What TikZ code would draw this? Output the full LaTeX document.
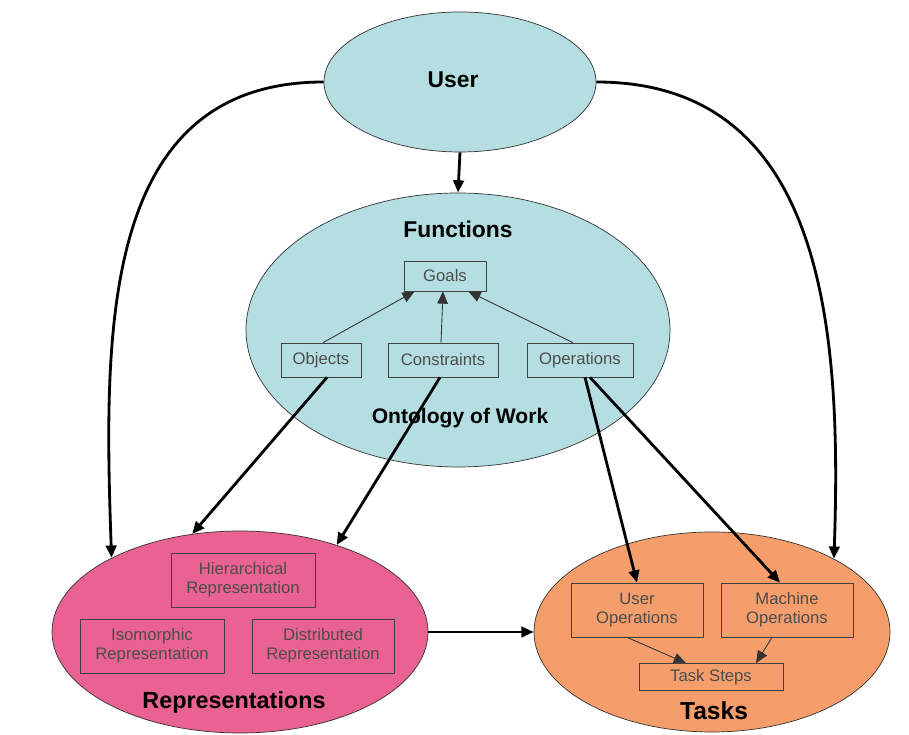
\documentclass[tikz,border=0pt]{standalone}
\usepackage{fontspec}
\setmainfont{Liberation Sans}
\usetikzlibrary{shapes.geometric,arrows.meta}
\definecolor{teal1}{RGB}{180,222,226}
\definecolor{pink1}{RGB}{234,98,145}
\definecolor{orange1}{RGB}{245,158,108}
\tikzset{
  area/.style={ellipse, draw=black!80, thin, inner sep=0pt},
  title/.style={font=\bfseries\fontsize{#1}{14}\selectfont},
  title/.default=12,
  box/.style={draw=black!75, thin, align=center, inner sep=0pt,
    text=black!70, font=\fontsize{9.5}{11}\selectfont},
  thick arrow/.style={->, line width=1.6pt},
  thin arrow/.style={->, line width=0.5pt, draw=black!80}
}
\begin{document}
\begin{tikzpicture}[>={Triangle[length=7pt,width=6pt]}]
  \useasboundingbox (0,0) rectangle (18.18,14.7);

  \node[area, fill=teal1, minimum width=5.44cm, minimum height=2.8cm] (user) at (9.2, 13.06) {};
  \node[title=13] (usertxt) at (9.06, 13.1) {User};

  \node[area, fill=teal1, minimum width=8.48cm, minimum height=5.48cm] (func) at (9.16, 8.1) {};
  \node[title=13] (functxt) at (9.16, 10.12) {Functions};
  \node[title] (ontotxt) at (9.2, 6.34) {Ontology of Work};

  \node[area, fill=pink1, minimum width=7.52cm, minimum height=4.04cm] (reps) at (4.8, 2.06) {};
  \node[title=13.3] (repstxt) at (4.68, 0.66) {Representations};

  \node[area, fill=orange1, minimum width=7.12cm, minimum height=4.0cm] (tasks) at (14.24, 2.06) {};
  \node[title=14] (taskstxt) at (14.28, 0.48) {Tasks};

  % boxes inside functions
  \node[box, minimum width=1.64cm, minimum height=0.6cm] (goals) at (8.9, 9.18) {Goals};
  \node[box, minimum width=1.6cm, minimum height=0.68cm] (objects) at (6.42, 7.5) {Objects};
  \node[box, minimum width=2.2cm, minimum height=0.68cm] (constraints) at (8.86, 7.5) {Constraints};
  \node[box, minimum width=2.12cm, minimum height=0.68cm] (operations) at (11.6, 7.5) {Operations};

  % boxes inside representations
  \node[box, minimum width=2.88cm, minimum height=1.08cm] (hier) at (4.86, 3.1) {Hierarchical\\Representation};
  \node[box, minimum width=2.88cm, minimum height=1.08cm] (iso) at (3.04, 1.78) {Isomorphic\\Representation};
  \node[box, minimum width=2.84cm, minimum height=1.08cm] (dist) at (6.46, 1.78) {Distributed\\Representation};

  % boxes inside tasks
  \node[box, minimum width=2.64cm, minimum height=1.08cm] (userops) at (12.74, 2.5) {User\\Operations};
  \node[box, minimum width=2.64cm, minimum height=1.08cm] (machops) at (15.74, 2.5) {Machine\\Operations};
  \node[box, minimum width=2.88cm, minimum height=0.54cm] (steps) at (14.22, 1.16) {Task Steps};

  % thin arrows
  \draw[thin arrow] ([xshift=0.04cm]objects.north) to ([xshift=0.22cm]goals.south west);
  \draw[thin arrow] ([xshift=-0.04cm]constraints.north) to ([xshift=-0.04cm]goals.south);
  \draw[thin arrow] ([xshift=-0.14cm]operations.north) to ([xshift=-0.36cm]goals.south east);
  \draw[thin arrow] ([xshift=-0.2cm]userops.south) to ([xshift=-0.5cm]steps.north);
  \draw[thin arrow] ([xshift=-0.3cm]machops.south) to ([xshift=0.9cm]steps.north);

  % thick arrows
  \draw[thick arrow] (user.south) to (func.north);
  \draw[thick arrow] (user.west) to[out=180, in=92, looseness=1.1] (reps.150);
  \draw[thick arrow] (user.east) to[out=0, in=88, looseness=1.1] (tasks.31);
  \draw[thick arrow] ([xshift=0.12cm]objects.south) to (reps.116);
  \draw[thick arrow] ([xshift=-0.06cm]constraints.south) to (reps.42);
  \draw[thick arrow] ([xshift=0.1cm]operations.south) to (userops.north);
  \draw[thick arrow] ([xshift=0.2cm]operations.south) to ([xshift=-0.14cm]machops.north);
  \draw[thick arrow] (reps.east) to (tasks.west);
\end{tikzpicture}
\end{document}
